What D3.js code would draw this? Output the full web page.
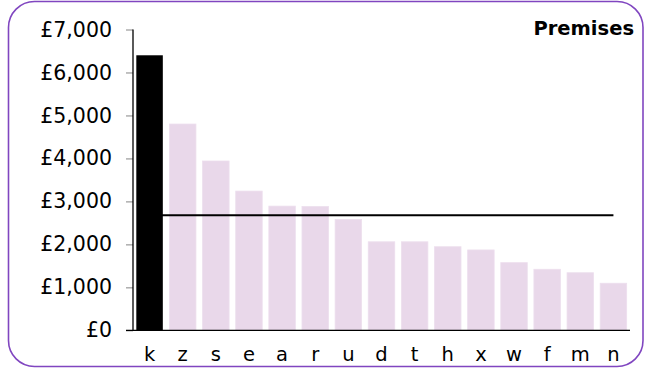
<!DOCTYPE html>
<html>
<head>
<meta charset="utf-8">
<script src="https://cdn.jsdelivr.net/npm/d3@7"></script>
<style>
  html, body { margin: 0; padding: 0; background: #fff; }
  svg { display: block; }
  text { font-family: "DejaVu Sans", Verdana, sans-serif; }
</style>
</head>
<body>
<svg id="chart" width="650" height="369"></svg>
<script>
const categories = ["k","z","s","e","a","r","u","d","t","h","x","w","f","m","n"];
const values = [6400, 4800, 3940, 3240, 2890, 2880, 2580, 2060, 2060, 1945, 1870, 1575, 1420, 1340, 1095];
const highlight = "k";
const averageValue = 2680;
const yTicks = [0, 1000, 2000, 3000, 4000, 5000, 6000, 7000];
const title = "Premises";

const svg = d3.select("#chart");

// border
svg.append("rect")
  .attr("x", 8.5).attr("y", 1.5)
  .attr("width", 634.5).attr("height", 365)
  .attr("rx", 26).attr("ry", 26)
  .attr("fill", "#fff")
  .attr("stroke", "#8046c0")
  .attr("stroke-width", 1.6);

const x = d3.scaleBand().domain(categories).range([133, 630]).paddingInner(0.2).paddingOuter(0.1);
const y = d3.scaleLinear().domain([0, 7000]).range([330.3, 29.5]);

const fmt = v => "£" + d3.format(",")(v);

// y axis
const yAxis = svg.append("g").attr("transform", "translate(133,0)")
  .call(d3.axisLeft(y).tickValues(yTicks).tickFormat(fmt).tickSize(7).tickPadding(14));
yAxis.select(".domain").remove();
yAxis.selectAll(".tick line").attr("stroke", "#999").attr("stroke-width", 1.2);
yAxis.selectAll(".tick text").attr("fill", "#000").attr("font-size", "20.5px")
  .attr("font-family", "'DejaVu Sans', Verdana, sans-serif");

// bars (non-highlighted)
const data = categories.map((c, i) => ({ c, v: values[i] }));
svg.append("g").selectAll("rect")
  .data(data.filter(d => d.c !== highlight))
  .join("rect")
  .attr("x", d => x(d.c))
  .attr("y", d => y(d.v))
  .attr("width", x.bandwidth())
  .attr("height", d => y(0) - y(d.v))
  .attr("fill", "#e9d8ea")
  .attr("stroke", "#eddfee")
  .attr("stroke-width", 0.8);

// average line
svg.append("line")
  .attr("x1", x(categories[0]) + x.bandwidth() / 2)
  .attr("x2", x(categories[categories.length - 1]) + x.bandwidth() / 2)
  .attr("y1", y(averageValue)).attr("y2", y(averageValue))
  .attr("stroke", "#000").attr("stroke-width", 2);

// highlighted bar
svg.append("g").selectAll("rect")
  .data(data.filter(d => d.c === highlight))
  .join("rect")
  .attr("x", d => x(d.c))
  .attr("y", d => y(d.v))
  .attr("width", x.bandwidth())
  .attr("height", d => y(0) - y(d.v))
  .attr("fill", "#000");

// axis lines
svg.append("line").attr("x1", 133).attr("x2", 133).attr("y1", y(7000)).attr("y2", y(0))
  .attr("stroke", "#000").attr("stroke-width", 1.3);
svg.append("line").attr("x1", 126).attr("x2", 630).attr("y1", y(0)).attr("y2", y(0))
  .attr("stroke", "#000").attr("stroke-width", 1.3);

// x labels
svg.append("g").selectAll("text")
  .data(categories)
  .join("text")
  .attr("x", d => x(d) + x.bandwidth() / 2)
  .attr("y", 361)
  .attr("text-anchor", "middle")
  .attr("font-size", "19.5px")
  .attr("fill", "#000")
  .text(d => d);

// title
svg.append("text")
  .attr("x", 634).attr("y", 35)
  .attr("text-anchor", "end")
  .attr("font-size", "19.5px")
  .attr("font-weight", "bold")
  .attr("fill", "#000")
  .text(title);
</script>
</body>
</html>
